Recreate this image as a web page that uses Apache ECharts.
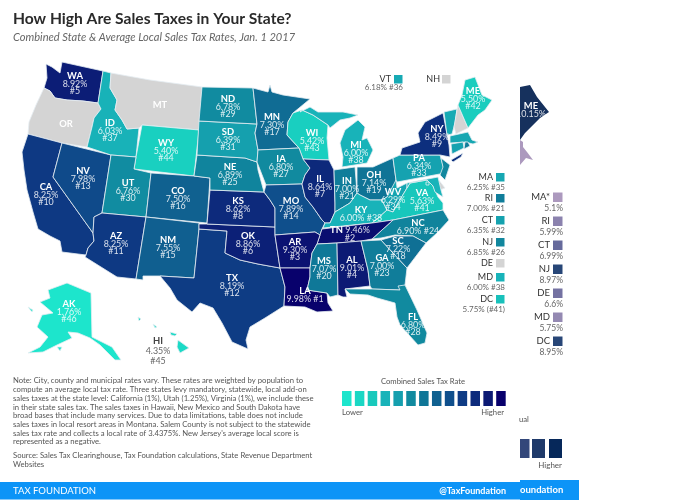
<!DOCTYPE html>
<html>
<head>
<meta charset="utf-8">
<title>How High Are Sales Taxes in Your State?</title>
<script src="https://cdn.jsdelivr.net/npm/echarts@6/dist/echarts.min.js"></script>
<style>
html,body{margin:0;padding:0;background:#fff;}
#chart{width:680px;height:500px;}
</style>
</head>
<body>
<div id="chart"></div>
<script>
// values
var state_names = ['AK','AL','AR','AZ','CA','CO','CT','DC','FL','GA','HI','IA','ID','IL','IN','KS','KY','LA','MA','MD','ME','MI','MN','MO','MS','NC','ND','NE','NJ','NM','NV','NY','OH','OK','PA','RI','SC','SD','TN','TX','UT','VA','VT','WA','WI','WV','WY'];
var state_rates = [1.76,9.01,9.30,8.25,8.25,7.50,6.35,5.75,6.80,7.00,4.35,6.80,6.03,8.64,7.00,8.62,6.00,9.98,6.25,6.00,5.50,6.00,7.30,7.89,7.07,6.90,6.78,6.89,6.85,7.55,7.98,8.49,7.14,8.86,6.34,7.00,7.22,6.39,9.46,8.19,6.76,5.63,6.18,8.92,5.42,6.29,5.40];
var state_ranks = [46,4,3,11,10,16,32,41,28,23,45,27,37,7,21,8,38,1,35,38,42,38,17,14,20,24,29,25,26,15,13,9,19,6,33,21,18,31,2,12,30,41,36,5,43,34,44];
var no_tax_states = ['OR','MT','NH','DE'];

// side list of small states
var key_states = ['MA','RI','CT','NJ','DE','MD','DC'];
// the older map showing through at the right edge
var old_states = ['MA*','RI','CT','NJ','DE','MD','DC'];
var old_rates = [5.1,5.99,6.99,8.97,6.6,5.75,8.95];
var old_maine = 10.15;

// colour scale
var scale_colors = ['#1de5cc','#1ad7c4','#18c9bc','#18b3b9','#159fae','#118a9f','#0f7697','#106190','#0f4f8c','#0e3b84','#0d2b7c','#0c1a74','#08006c'];
var scale_stops = [1.76,5.2,5.6,6.0,6.4,6.8,7.1,7.5,7.9,8.2,8.6,9.0,10];
var old_colors = ['#b09cc0','#6f6fa0','#2f4f82','#15305c'];
var old_swatches = ['#33477a','#1f3a6a','#06285a'];

function rateColor(v){
	for (var i = 1; i < scale_stops.length; i++) {
		if (v <= scale_stops[i]) {
			var t = (v - scale_stops[i-1]) / (scale_stops[i] - scale_stops[i-1]);
			return echarts.color.lerp(t, [scale_colors[i-1], scale_colors[i]]);
		}
	}
	return scale_colors[scale_colors.length-1];
}
function oldColor(v){
	return echarts.color.lerp((v - 5) / 5.2, old_colors);
}

// state outlines, traced in picture pixels
var outlines = {
	WA:[[[46,64],[52,67],[60,73],[62,62],[103,71],[98,103],[83,101],[67,100],[55,98],[50,91],[44,88],[47,78]]],
	OR:[[[44,88],[50,91],[55,98],[67,100],[83,101],[98,103],[101,109],[94,118],[92,127],[87,147],[62,143],[28,134],[29,122],[36,105]]],
	CA:[[[28,134],[62,143],[53,177],[93,233],[94,241],[88,248],[86,255],[62,252],[60,241],[50,236],[38,229],[33,212],[27,190],[24,170],[22,152]]],
	NV:[[[62,143],[111,155],[102,213],[94,217],[93,233],[53,177]]],
	ID:[[[103,71],[111,73],[110,88],[117,100],[115,110],[122,120],[127,129],[139,128],[136,157],[111,155],[87,147],[92,127],[94,118],[101,109],[98,103]]],
	MT:[[[111,73],[150,80],[202,87],[199,130],[142,125],[139,128],[127,129],[122,120],[115,110],[117,100],[110,88]]],
	WY:[[[142,125],[199,130],[194,176],[134,169],[136,157]]],
	UT:[[[111,155],[136,157],[134,169],[151,173],[146,217],[102,213]]],
	CO:[[[151,173],[194,176],[210,178],[207,223],[146,217]]],
	AZ:[[[102,213],[146,217],[136,279],[117,277],[85,257],[86,255],[88,248],[94,241],[93,233],[94,217]]],
	NM:[[[146,217],[199,223],[199,229],[194,278],[160,276],[143,276],[143,280],[136,279]]],
	TX:[[[199,229],[227,231],[225,253],[240,260],[258,264],[280,268],[285,287],[284,306],[265,318],[250,327],[246,340],[248,349],[232,342],[222,323],[213,308],[200,303],[192,312],[177,300],[170,288],[160,276],[194,278]]],
	OK:[[[199,224],[207,224],[275,227],[275,235],[280,268],[258,264],[240,260],[225,253],[227,231],[199,229]]],
	KS:[[[210,190],[264,192],[270,200],[275,208],[275,227],[207,224]]],
	NE:[[[197,155],[245,158],[257,162],[258,170],[264,192],[210,190],[210,178],[194,176]]],
	SD:[[[199,121],[257,124],[255,133],[258,150],[257,162],[245,158],[197,155]]],
	ND:[[[202,87],[253,88],[257,124],[199,121]]],
	MN:[[[253,88],[268,92],[270,85],[272,92],[283,95],[310,99],[293,113],[288,122],[287,135],[299,148],[258,150],[255,133],[257,124]]],
	WI:[[[293,113],[302,110],[313,115],[328,125],[327,138],[329,160],[303,159],[299,148],[287,135],[288,122]]],
	MI:[[[358,120],[365,127],[362,140],[367,138],[373,150],[367,163],[342,167],[343,157],[340,143],[345,130]],[[300,112],[310,107],[318,112],[343,112],[358,115],[350,118],[340,120],[330,128],[328,125],[313,115],[302,110]]],
	IA:[[[258,150],[299,148],[303,159],[310,168],[305,175],[302,184],[266,185],[257,162]]],
	MO:[[[266,185],[302,184],[305,197],[313,207],[322,220],[325,223],[322,229],[320,235],[315,232],[275,235],[275,208],[270,200],[264,192]]],
	IL:[[[303,159],[329,160],[334,170],[335,203],[335,212],[330,223],[325,223],[322,220],[313,207],[305,197],[302,184],[305,175],[310,168]]],
	IN:[[[334,170],[355,167],[357,193],[350,203],[335,212],[335,203]]],
	OH:[[[357,167],[373,167],[393,158],[396,180],[397,188],[387,197],[382,200],[370,200],[360,195],[357,193]]],
	KY:[[[335,212],[350,203],[357,193],[360,195],[370,200],[382,200],[387,210],[377,219],[372,223],[323,228],[325,223],[330,223]]],
	WV:[[[396,180],[397,188],[407,183],[407,188],[398,203],[393,212],[387,210],[382,200],[387,197]]],
	VA:[[[387,210],[393,212],[398,203],[407,188],[410,183],[427,180],[433,186],[438,197],[443,203],[443,210],[393,220],[372,223],[377,219]]],
	PA:[[[393,158],[400,155],[440,155],[445,173],[397,182],[396,180]]],
	NY:[[[400,155],[402,148],[420,142],[418,133],[425,122],[443,113],[449,145],[450,157],[440,155]],[[451,160],[463,153],[461,157],[453,162]]],
	VT:[[[444,112],[457,109],[455,123],[452,134],[447,135]]],
	NH:[[[457,110],[458,105],[468,128],[456,134],[454,127]]],
	ME:[[[458,105],[462,95],[465,80],[475,77],[482,95],[492,100],[485,110],[478,115],[468,128]]],
	MA:[[[450,136],[468,132],[472,140],[478,142],[473,144],[465,142],[450,143]]],
	CT:[[[451,144],[463,142],[464,148],[452,154]]],
	RI:[[[465,142],[468,142],[470,146],[464,149]]],
	NJ:[[[441,158],[450,165],[445,180],[440,175],[443,167]]],
	DE:[[[438,179],[445,188],[440,190]]],
	MD:[[[407,183],[438,177],[441,190],[443,197],[435,192],[433,186],[427,180],[410,183],[407,188]]],
	DC:[[[426,182],[429,182],[429,185],[426,185]]],
	NC:[[[443,210],[449,220],[438,232],[426,243],[413,236],[395,235],[381,238],[372,239],[393,220]]],
	TN:[[[322,229],[372,223],[393,220],[372,239],[361,241],[337,243],[317,244],[320,235]]],
	AR:[[[275,235],[315,232],[320,235],[317,244],[312,253],[310,268],[280,268]]],
	LA:[[[280,268],[310,268],[310,277],[307,290],[327,293],[328,303],[333,311],[317,312],[305,307],[284,306],[285,287]]],
	MS:[[[317,244],[337,243],[338,295],[330,297],[327,293],[307,290],[310,277],[310,268],[312,253]]],
	AL:[[[337,243],[361,241],[368,270],[370,286],[345,289],[347,297],[343,297],[338,295]]],
	GA:[[[361,241],[381,240],[407,268],[405,285],[400,290],[372,289],[370,286],[368,270]]],
	SC:[[[381,240],[395,236],[413,236],[426,243],[407,268]]],
	FL:[[[345,289],[372,289],[400,290],[398,286],[405,285],[417,310],[427,333],[425,343],[418,345],[400,325],[397,317],[395,303],[377,298],[368,295],[350,294]]],
	AK:[[[48,290],[67,283],[91,293],[92,337],[102,342],[112,347],[121,360],[115,360],[100,345],[90,338],[78,333],[68,332],[72,338],[57,345],[43,352],[28,353],[40,347],[48,337],[37,327],[42,315],[53,313],[40,302],[50,298]],[[28,307],[33,310],[32,312]],[[57,347],[62,347],[60,351]]],
	HI:[[[178,340],[189,348],[180,353],[177,347]],[[170,332],[177,334],[175,336],[171,335]],[[153,324],[157,327],[155,328]],[[138,317],[141,319],[139,321]]],
	'old ME':[[[520,87],[530,85],[537,97],[549,112],[540,118],[525,133],[520,140]]],
	'old MA':[[[520,140],[523,142],[523,147],[527,152],[533,160],[526,158],[520,165]]]
};

// where each label sits, picture pixels
var label_at = {WA:[75,83],ID:[110,130],MT:[160,104],OR:[66,123],ND:[228,106],SD:[228,139],NE:[230,174],WY:[166,150],NV:[83,178],CA:[46,194],UT:[128,190],CO:[178,198],KS:[238,208],AZ:[116,243],NM:[168,247],OK:[248,243],TX:[232,285],AK:[69,311],MN:[272,124],WI:[312,140],IA:[281,166],MI:[356,152],IL:[320,186],IN:[347,188],OH:[374,182],MO:[291,208],KY:[361,213],PA:[419,165],NY:[437,136],WV:[393,199],VA:[422,200],TN:[350,233],NC:[418,226],SC:[398,248],GA:[382,265],AL:[352,267],MS:[324,268],AR:[295,249],LA:[305,294],FL:[413,324],ME:[473,98],HI:[158,350],'old ME':[531,109]};
var two_line = ['KY','NC','LA'];
var key_only = ['VT','NH','MA','RI','CT','NJ','DE','MD','DC'];

var features = [];
for (var name in outlines) {
	var rings = outlines[name].map(function(ring){
		var flipped = ring.map(function(p){ return [p[0], 500 - p[1]]; });
		flipped.push(flipped[0]);
		return [flipped];
	});
	var props = {name: name};
	if (label_at[name]) props.cp = [label_at[name][0], 500 - label_at[name][1]];
	features.push({type:'Feature', properties:props, geometry:{type:'MultiPolygon', coordinates:rings}});
}
echarts.registerMap('usa', {type:'FeatureCollection', features:features});

function rateOf(name){
	return state_rates[state_names.indexOf(name)];
}
function rankOf(name){
	return state_ranks[state_names.indexOf(name)];
}
function labelText(name){
	var v = '{v|' + rateOf(name).toFixed(2) + '%}';
	var r = '{v|#' + rankOf(name) + '}';
	if (name == 'TN') return '{n|TN} ' + v + '\n' + r;
	if (two_line.indexOf(name) >= 0) return '{n|' + name + '}\n' + v + ' ' + r;
	return '{n|' + name + '}\n' + v + '\n' + r;
}

var map_data = [];
for (var i = 0; i < state_names.length; i++) {
	var nm = state_names[i];
	var item = {name:nm, value:state_rates[i], itemStyle:{areaColor:rateColor(state_rates[i])}};
	if (key_only.indexOf(nm) >= 0) {
		item.label = {show:false};
	} else if (nm == 'HI') {
		item.label = {show:true, formatter:'{hn|HI}\n{hv|' + state_rates[i].toFixed(2) + '%}\n{hv|#' + state_ranks[i] + '}', lineHeight:10};
	} else {
		item.label = {show:true, formatter:labelText(nm)};
	}
	map_data.push(item);
}
for (var i = 0; i < no_tax_states.length; i++) {
	var show = no_tax_states[i] == 'OR' || no_tax_states[i] == 'MT';
	map_data.push({name:no_tax_states[i], value:0, itemStyle:{areaColor:'#d4d4d4'},
		label:{show:show, formatter:'{n|' + no_tax_states[i] + '}'}});
}
map_data.push({name:'old ME', value:old_maine, itemStyle:{areaColor:oldColor(old_maine), borderWidth:0},
	label:{show:true, formatter:'{n|ME}\n{v|' + old_maine.toFixed(2) + '%}'}});
map_data.push({name:'old MA', value:old_rates[0], itemStyle:{areaColor:oldColor(old_rates[0]), borderWidth:0}, label:{show:false}});

var FONT = 'Lato';
var els = [];
function text(x, y, s, size, color, align, weight, style){
	els.push({type:'text', x:x, y:y, z:20, style:{text:s, fontFamily:FONT, fontSize:size, fill:color,
		align:align || 'left', verticalAlign:'middle', fontWeight:weight || 'normal', fontStyle:style || 'normal'}});
}
function rect(x, y, w, h, color, z){
	els.push({type:'rect', z:z || 10, shape:{x:x, y:y, width:w, height:h}, style:{fill:color}});
}

// footer bars
rect(520, 480, 59, 20, '#0c94f7', 5);
rect(0, 482, 520, 17.5, '#0c94f7', 6);
text(520, 490, 'oundation', 9.5, '#fff', 'left', 'bold');
text(13, 491, 'TAX FOUNDATION', 9.5, '#fff');
text(506, 491, '@TaxFoundation', 9, '#fff', 'right', 'bold');

// heading
text(13, 19, 'How High Are Sales Taxes in Your State?', 15.6, '#2a2a2a', 'left', 'bold');
text(13, 37, 'Combined State & Average Local Sales Tax Rates, Jan. 1 2017', 11.1, '#666', 'left', 'normal', 'italic');

// note
var note_lines = [
	'Note: City, county and municipal rates vary. These rates are weighted by population to',
	'compute an average local tax rate. Three states levy mandatory, statewide, local add-on',
	'sales taxes at the state level: California (1%), Utah (1.25%), Virginia (1%), we include these',
	'in their state sales tax. The sales taxes in Hawaii, New Mexico and South Dakota have',
	'broad bases that include many services. Due to data limitations, table does not include',
	'sales taxes in local resort areas in Montana. Salem County is not subject to the statewide',
	'sales tax rate and collects a local rate of 3.4375%. New Jersey\'s average local score is',
	'represented as a negative.'
];
for (var i = 0; i < note_lines.length; i++) {
	text(13, 381 + i * 8.7, note_lines[i], 7.7, '#555');
}
text(13, 456, 'Source: Sales Tax Clearinghouse, Tax Foundation calculations, State Revenue Department', 7.7, '#555');
text(13, 465, 'Websites', 7.7, '#555');

// colour legend
text(423, 382, 'Combined Sales Tax Rate', 7.7, '#555', 'center');
for (var i = 0; i < scale_colors.length; i++) {
	rect(342 + i * 12.85, 391, 9.5, 15, scale_colors[i]);
}
text(342, 413, 'Lower', 7.7, '#555');
text(504, 413, 'Higher', 7.7, '#555', 'right');

// VT and NH sit above the map
text(391, 79, 'VT', 9, '#333', 'right');
rect(394, 75, 8.5, 8.5, rateColor(rateOf('VT')));
text(403, 87.5, rateOf('VT').toFixed(2) + '% #' + rankOf('VT'), 8, '#666', 'right');
text(440, 79, 'NH', 9, '#333', 'right');
rect(442, 75, 8.5, 8.5, '#d4d4d4');

// small states
var key_y = [177,198,220,242,263,277,299];
for (var i = 0; i < key_states.length; i++) {
	var nm = key_states[i];
	text(493, key_y[i], nm, 9, '#333', 'right');
	if (nm == 'DE') {
		rect(496, key_y[i] - 4, 8.5, 8.5, '#d4d4d4');
		continue;
	}
	rect(496, key_y[i] - 4, 8.5, 8.5, rateColor(rateOf(nm)));
	var rank = nm == 'DC' ? '(#' + rankOf(nm) + ')' : '#' + rankOf(nm);
	text(505, key_y[i] + 10, rateOf(nm).toFixed(2) + '% ' + rank, 8, '#666', 'right');
}

// old map key on the right edge
for (var i = 0; i < old_states.length; i++) {
	var y0 = 197 + i * 24;
	text(550, y0, old_states[i], 9.5, '#333', 'right');
	rect(553, y0 - 4.5, 9.5, 9.5, oldColor(old_rates[i]));
	text(563, y0 + 11, old_rates[i] + '%', 8.5, '#666', 'right');
}
rect(520, 439, 9.5, 19, old_swatches[0]);
rect(532, 439, 13, 19, old_swatches[1]);
rect(549, 439, 13, 19, old_swatches[2]);
text(519, 420, 'ual', 7.7, '#555');
text(562, 465, 'Higher', 8, '#555', 'right');

var chart = echarts.init(document.getElementById('chart'));
chart.setOption({
	animation: false,
	backgroundColor: '#fff',
	graphic: {elements: els},
	series: [{
		type: 'map',
		map: 'usa',
		roam: false,
		silent: true,
		aspectScale: 1,
		boundingCoords: [[0,500],[680,0]],
		left: 0,
		top: 0,
		width: 680,
		height: 500,
		showLegendSymbol: false,
		itemStyle: {areaColor:'#d4d4d4', borderColor:'#e6eef2', borderWidth:0.8},
		label: {
			show: true,
			offset: [0,1],
			fontFamily: FONT,
			fontSize: 8.9,
			lineHeight: 7.6,
			color: '#fff',
			rich: {
				n: {fontFamily:FONT, fontSize:9.4, fontWeight:'bold', color:'#fff', lineHeight:7.6},
				v: {fontFamily:FONT, fontSize:8.9, color:'rgba(255,255,255,0.85)', lineHeight:7.6},
				hn: {fontFamily:FONT, fontSize:9.4, fontWeight:'bold', color:'#444', lineHeight:10},
				hv: {fontFamily:FONT, fontSize:8.9, color:'#666', lineHeight:10}
			}
		},
		data: map_data
	}]
});
</script>
</body>
</html>
